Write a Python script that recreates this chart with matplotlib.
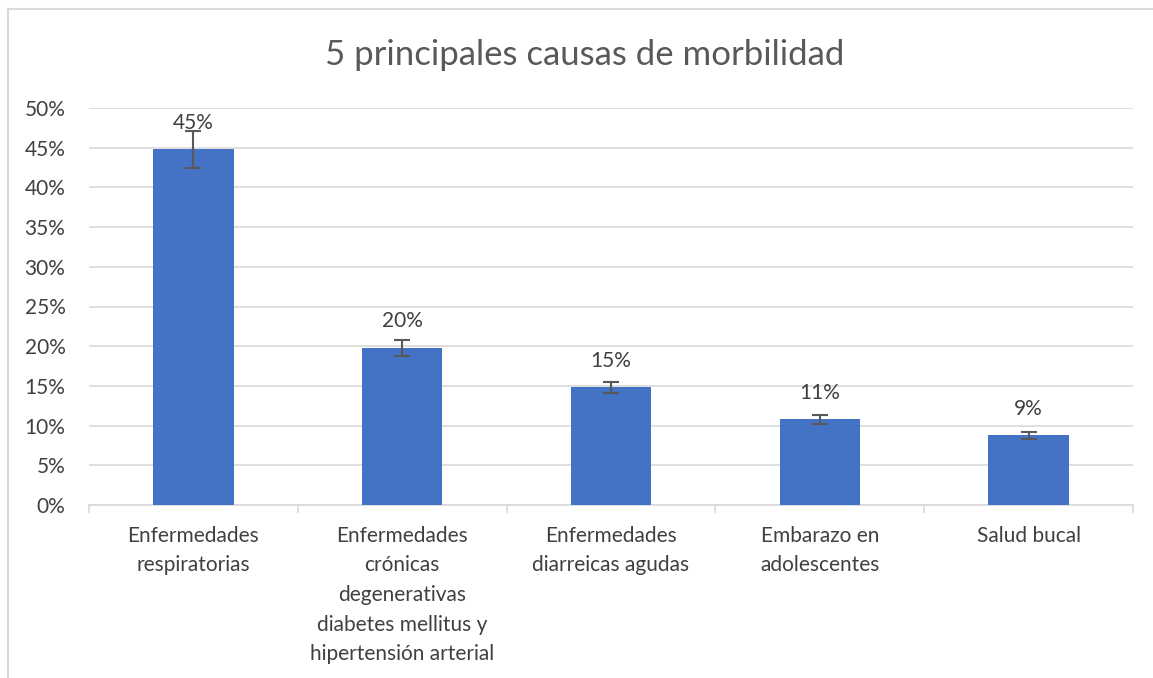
import numpy as np
import matplotlib
matplotlib.use('Agg')
import matplotlib.pyplot as plt
from matplotlib.lines import Line2D
from matplotlib.ticker import PercentFormatter

categories = ['Enfermedades\nrespiratorias',
              'Enfermedades\ncrónicas\ndegenerativas\ndiabetes mellitus y\nhipertensión arterial',
              'Enfermedades\ndiarreicas agudas',
              'Embarazo en\nadolescentes',
              'Salud bucal']
values = [0.448, 0.198, 0.148, 0.108, 0.088]
errors = [0.023, 0.010, 0.0075, 0.0055, 0.0045]
labels = ['45%', '20%', '15%', '11%', '9%']
yticks = [0, 0.05, 0.10, 0.15, 0.20, 0.25, 0.30, 0.35, 0.40, 0.45, 0.50]

plt.rcParams['font.family'] = ['Lato', 'DejaVu Sans']
text_color = '#404040'
title_color = '#595959'

fig = plt.figure(figsize=(11.53, 6.78), dpi=100)
# outer chart border (only top and left visible in the crop)
W, H = 1153, 678
fig.lines.append(Line2D([8 / W, 8 / W], [0, 1 - 9 / H], transform=fig.transFigure,
                        color='#D9D9D9', linewidth=1.5))
fig.lines.append(Line2D([8 / W, 1], [1 - 9 / H, 1 - 9 / H], transform=fig.transFigure,
                        color='#D9D9D9', linewidth=1.5))

ax = fig.add_axes([89 / W, (H - 505) / H, (1133 - 89) / W, (505 - 108) / H])
x = np.arange(len(categories))
ax.bar(x, values, width=0.385, color='#4472C4', zorder=3)
ax.errorbar(x, values, yerr=errors, fmt='none', ecolor='#595959',
            elinewidth=1.5, capsize=6, capthick=1.5, zorder=4)
for xi, v, lab in zip(x, values, labels):
    ax.annotate(lab, (xi, v), xytext=(0, 19), textcoords='offset points',
                ha='center', va='center', fontsize=15, color=text_color, zorder=5)

ax.set_xlim(-0.5, len(categories) - 0.5)
ax.set_ylim(0, 0.5)
ax.set_yticks(yticks)
ax.yaxis.set_major_formatter(PercentFormatter(1.0, decimals=0))
ax.grid(axis='y', color='#D9D9D9', linewidth=1.2, zorder=0)
ax.set_xticks(x)
ax.set_xticklabels(categories, fontsize=15, color=text_color, linespacing=1.6, va='top')
ax.set_xticks(np.arange(-0.5, len(categories), 1.0), minor=True)
ax.tick_params(axis='x', which='major', length=0, pad=15)
ax.tick_params(axis='x', which='minor', length=6, color='#D9D9D9', width=1.2)
ax.tick_params(axis='y', length=0, labelsize=15, labelcolor=text_color, pad=17)
for side in ['top', 'right', 'left']:
    ax.spines[side].set_visible(False)
ax.spines['bottom'].set_color('#D9D9D9')
ax.spines['bottom'].set_linewidth(1.2)

fig.text(585 / W, 1 - 55 / H, '5 principales causas de morbilidad',
         ha='center', va='center', fontsize=25, color=title_color)

plt.savefig('out.png', dpi=100)
